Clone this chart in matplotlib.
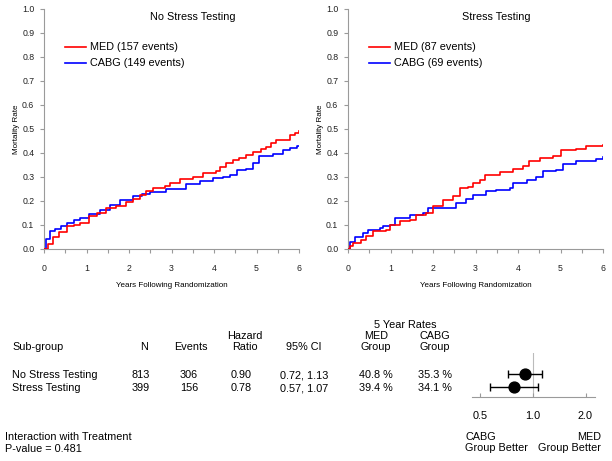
import matplotlib
matplotlib.use("Agg")
import matplotlib.pyplot as plt
import numpy as np
from matplotlib.ticker import MultipleLocator, FixedLocator, FormatStrFormatter

plt.rcParams['font.family'] = ['Liberation Sans', 'DejaVu Sans']

# ---------------- data ----------------
panel_titles = ["No Stress Testing", "Stress Testing"]
med_labels = ["MED (157 events)", "MED (87 events)"]
cabg_labels = ["CABG (149 events)", "CABG (69 events)"]

# No Stress Testing
ns_med_t = [0, 0.10, 0.21, 0.35, 0.53, 0.70, 0.84, 1.07, 1.25, 1.47, 1.70, 1.94, 2.10, 2.25,
            2.40, 2.56, 2.84, 2.96, 3.19, 3.50, 3.74, 4.05, 4.15, 4.29, 4.45, 4.60, 4.75, 4.92,
            5.10, 5.23, 5.35, 5.47, 5.78, 5.90, 6.0]
ns_med_r = [0, 0.02, 0.05, 0.07, 0.094, 0.10, 0.11, 0.136, 0.15, 0.17, 0.18, 0.194, 0.21, 0.226,
            0.24, 0.254, 0.264, 0.277, 0.291, 0.30, 0.316, 0.327, 0.34, 0.358, 0.37, 0.379, 0.392, 0.406,
            0.415, 0.427, 0.44, 0.455, 0.475, 0.485, 0.49]
ns_cabg_t = [0, 0.05, 0.13, 0.25, 0.40, 0.53, 0.70, 0.84, 1.05, 1.31, 1.55, 1.78, 2.09, 2.30,
             2.49, 2.88, 3.35, 3.66, 3.98, 4.20, 4.37, 4.53, 4.76, 4.92, 5.07, 5.39, 5.62, 5.78,
             5.95, 6.0]
ns_cabg_r = [0, 0.04, 0.074, 0.083, 0.095, 0.11, 0.12, 0.13, 0.145, 0.164, 0.185, 0.205, 0.222, 0.23,
             0.236, 0.25, 0.272, 0.282, 0.295, 0.30, 0.309, 0.33, 0.333, 0.358, 0.388, 0.397, 0.413, 0.42,
             0.428, 0.431]

# Stress Testing
st_med_t = [0, 0.05, 0.12, 0.31, 0.43, 0.59, 0.90, 0.98, 1.22, 1.45, 1.61, 1.84, 2.00, 2.24,
            2.47, 2.63, 2.82, 2.94, 3.10, 3.22, 3.57, 3.88, 4.12, 4.27, 4.51, 4.82, 5.02, 5.37,
            5.61, 6.0]
st_med_r = [0, 0.012, 0.025, 0.036, 0.053, 0.074, 0.08, 0.10, 0.115, 0.122, 0.143, 0.15, 0.178, 0.205,
            0.219, 0.254, 0.258, 0.275, 0.288, 0.309, 0.319, 0.333, 0.344, 0.365, 0.379, 0.388, 0.413, 0.416,
            0.431, 0.434]
st_cabg_t = [0, 0.05, 0.16, 0.35, 0.47, 0.75, 0.82, 0.98, 1.10, 1.45, 1.76, 1.88, 2.39, 2.55,
             2.78, 2.94, 3.25, 3.49, 3.80, 3.88, 4.20, 4.43, 4.59, 4.90, 5.06, 5.37, 5.84, 6.0]
st_cabg_r = [0, 0.028, 0.05, 0.067, 0.08, 0.087, 0.097, 0.10, 0.129, 0.143, 0.15, 0.171, 0.171, 0.19,
             0.208, 0.226, 0.24, 0.247, 0.254, 0.275, 0.288, 0.302, 0.323, 0.33, 0.355, 0.365, 0.374, 0.383]

# Forest table
subgroups = ["No Stress Testing", "Stress Testing"]
n_vals = [813, 399]
events = [306, 156]
hr = [0.90, 0.78]
ci_lo = [0.72, 0.57]
ci_hi = [1.13, 1.07]
med_rate = [40.8, 39.4]
cabg_rate = [35.3, 34.1]
p_value = 0.481
forest_ticks = [0.5, 1.0, 2.0]

# ---------------- figure ----------------
W, H = 612, 461
fig = plt.figure(figsize=(W / 100, H / 100), dpi=100)

def fx(x):
    return x / W

def fy(y):
    return 1 - y / H

def ftext(x, y, s, ha='left', size=7.8, **kw):
    fig.text(fx(x), fy(y), s, ha=ha, va='center', fontsize=size, color='black', **kw)

gray = '#9a9a9a'
RED = '#ff0000'
BLUE = '#0000ff'

panels = [
    (44, ns_med_t, ns_med_r, ns_cabg_t, ns_cabg_r),
    (348, st_med_t, st_med_r, st_cabg_t, st_cabg_r),
]
for i, (left, mt, mr, ct, cr) in enumerate(panels):
    ax = fig.add_axes([fx(left), fy(249), 255 / W, 240 / H])
    ax.step(ct, cr, where='post', color=BLUE, lw=1.2, zorder=3)
    ax.step(mt, mr, where='post', color=RED, lw=1.2, zorder=4)
    ax.set_xlim(0, 6)
    ax.set_ylim(0, 1)
    for sp in ['top', 'right']:
        ax.spines[sp].set_visible(False)
    for sp in ['left', 'bottom']:
        ax.spines[sp].set_color(gray)
        ax.spines[sp].set_linewidth(0.8)
    ax.yaxis.set_major_locator(MultipleLocator(0.1))
    ax.xaxis.set_major_locator(MultipleLocator(1))
    ax.xaxis.set_minor_locator(MultipleLocator(0.5))
    ax.yaxis.set_major_formatter(FormatStrFormatter('%.1f'))
    ax.tick_params(axis='both', which='both', direction='out', length=3, width=0.8,
                   color=gray, labelsize=6.3, labelcolor='#222222')
    ax.tick_params(axis='y', pad=4)
    ax.tick_params(axis='x', pad=8)
    ax.text(-28 / 255, 0.5, "Mortality Rate", transform=ax.transAxes, rotation=90,
            ha='center', va='center', fontsize=5.8)
    ax.set_xlabel("Years Following Randomization", fontsize=5.8, labelpad=6)
    ax.text(3.5, 0.965, panel_titles[i], ha='center', va='center', fontsize=7.8)
    ax.plot([0.49, 0.99], [0.842, 0.842], color=RED, lw=1.2)
    ax.plot([0.49, 0.99], [0.775, 0.775], color=BLUE, lw=1.2)
    ax.text(1.08, 0.842, med_labels[i], ha='left', va='center', fontsize=7.8)
    ax.text(1.08, 0.775, cabg_labels[i], ha='left', va='center', fontsize=7.8)

# ---------------- table ----------------
ftext(405, 325, "5 Year Rates", ha='center')
ftext(245, 336, "Hazard", ha='center')
ftext(376, 336, "MED", ha='center')
ftext(435, 336, "CABG", ha='center')
ftext(12, 347, "Sub-group")
ftext(144, 347, "N", ha='center')
ftext(191, 347, "Events", ha='center')
ftext(245, 347, "Ratio", ha='center')
ftext(304, 347, "95% CI", ha='center')
ftext(376, 347, "Group", ha='center')
ftext(435, 347, "Group", ha='center')

row_y = [375, 388]
for k in range(len(subgroups)):
    y = row_y[k]
    ftext(12, y, subgroups[k])
    ftext(141, y, f"{n_vals[k]}", ha='center')
    ftext(189, y, f"{events[k]}", ha='center')
    ftext(241, y, f"{hr[k]:.2f}", ha='center')
    ftext(304, y, f"{ci_lo[k]:.2f}, {ci_hi[k]:.2f}", ha='center')
    ftext(376, y, f"{med_rate[k]:.1f} %", ha='center')
    ftext(435, y, f"{cabg_rate[k]:.1f} %", ha='center')

ftext(5, 437, "Interaction with Treatment")
ftext(5, 449, f"P-value = {p_value:.3f}")

# ---------------- forest ----------------
axf = fig.add_axes([fx(472), fy(397), 123 / W, 44 / H])
axf.set_xscale('log')
lo_edge = 2 ** ((472 - 533) / 52.5)
hi_edge = 2 ** ((595 - 533) / 52.5)
axf.set_xlim(lo_edge, hi_edge)
ypos = [397 - row_y[0] + 1.5, 397 - row_y[1] + 1.5]
axf.set_ylim(0, 44)
axf.axvline(1.0, color='#bbbbbb', lw=0.8, zorder=1)
for k in range(len(hr)):
    axf.errorbar([hr[k]], [ypos[k]], xerr=[[hr[k] - ci_lo[k]], [ci_hi[k] - hr[k]]],
                 fmt='o', color='black', ms=7.8, elinewidth=1.0, capsize=3, capthick=1.0, zorder=3)
for sp in ['top', 'right', 'left']:
    axf.spines[sp].set_visible(False)
axf.spines['bottom'].set_color(gray)
axf.spines['bottom'].set_linewidth(0.8)
axf.set_yticks([])
axf.xaxis.set_major_locator(FixedLocator(forest_ticks))
axf.xaxis.set_minor_locator(FixedLocator([]))
axf.set_xticklabels([f"{v:.1f}" for v in forest_ticks])
axf.tick_params(axis='x', direction='in', length=3, color=gray, labelsize=7.8, pad=10)

ftext(465, 437, "CABG")
ftext(465, 448, "Group Better")
ftext(601, 437, "MED", ha='right')
ftext(601, 448, "Group Better", ha='right')

fig.savefig("out.png", dpi=100)
